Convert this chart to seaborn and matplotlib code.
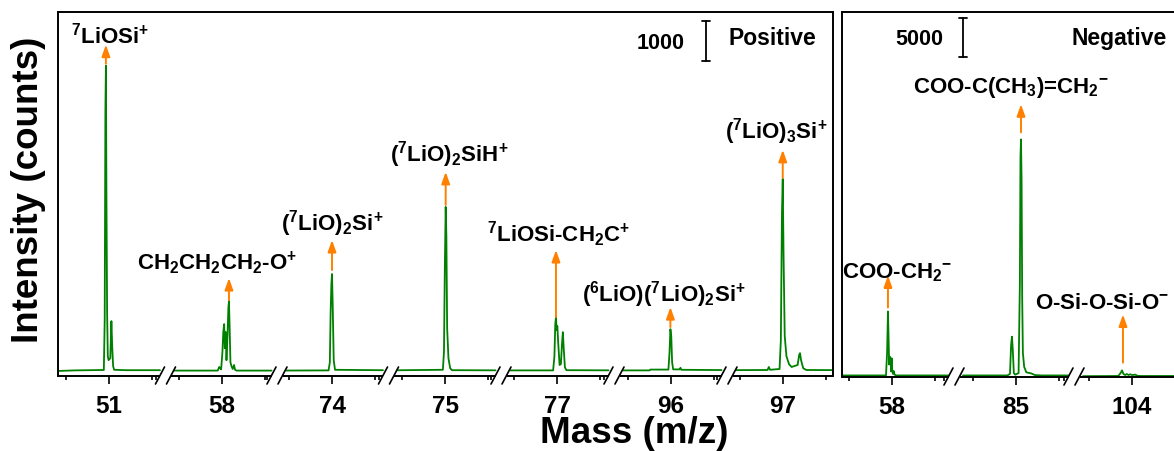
import numpy as np
import pandas as pd
import matplotlib
matplotlib.use("Agg")
import matplotlib.pyplot as plt
import seaborn as sns
from matplotlib.transforms import blended_transform_factory

# ---------------- data ----------------
pos_centers = [51, 58, 74, 75, 77, 96, 97]
neg_centers = [58, 85, 104]

pos51_mz = [50.40, 50.60, 50.94, 50.950, 50.958, 50.964, 50.970, 50.978, 50.986, 50.995, 51.015, 51.028, 51.038, 51.048, 51.06, 51.2, 51.8]
pos51_ct = [30, 45, 55, 1300, 6500, 7650, 4500, 1500, 400, 300, 350, 1275, 600, 150, 60, 50, 50]

pos58_mz = [57.3, 57.95, 57.968, 57.976, 57.99, 58.005, 58.015, 58.025, 58.033, 58.043, 58.052, 58.064, 58.074, 58.081, 58.089, 58.098, 58.11, 58.125, 58.14, 58.152, 58.17, 58.8]
pos58_ct = [40, 40, 130, 110, 70, 500, 1000, 1200, 600, 1000, 300, 900, 1600, 1775, 1100, 250, 150, 80, 180, 60, 40, 40]

pos74_mz = [73.3, 73.96, 73.975, 73.984, 73.993, 74.0, 74.008, 74.02, 74.035, 74.8]
pos74_ct = [40, 45, 250, 1500, 2200, 2450, 1700, 300, 60, 45]

pos75_mz = [74.3, 74.975, 74.988, 74.998, 75.008, 75.016, 75.025, 75.04, 75.06, 75.08, 75.8]
pos75_ct = [45, 60, 500, 2600, 4125, 3400, 1100, 350, 100, 50, 45]

pos77_mz = [76.3, 76.955, 76.97, 76.98, 76.988, 76.996, 77.004, 77.015, 77.03, 77.045, 77.058, 77.068, 77.078, 77.092, 77.11, 77.8]
pos77_ct = [45, 45, 400, 1200, 1375, 1050, 1150, 700, 180, 200, 700, 1000, 600, 120, 50, 45]

pos96_mz = [95.3, 95.75, 95.76, 95.97, 95.983, 95.993, 96.003, 96.013, 96.025, 96.1, 96.11, 96.12, 96.8]
pos96_ct = [45, 45, 65, 65, 500, 1075, 900, 250, 70, 70, 110, 60, 50]

pos97_mz = [96.3, 96.82, 96.835, 96.85, 96.96, 96.975, 96.988, 96.997, 97.006, 97.02, 97.04, 97.07, 97.1, 97.17, 97.188, 97.198, 97.21, 97.235, 97.27, 97.8]
pos97_ct = [50, 55, 130, 60, 80, 800, 4000, 4825, 3000, 900, 400, 200, 130, 180, 430, 475, 300, 100, 55, 50]

neg58_mz = [57.3, 57.93, 57.943, 57.953, 57.96, 57.967, 57.975, 57.983, 57.99, 57.996, 58.003, 58.012, 58.02, 58.03, 58.05, 58.9]
neg58_ct = [100, 100, 3000, 8270, 5000, 1500, 2500, 2000, 600, 2300, 800, 300, 650, 200, 100, 100]

neg85_mz = [84.2, 84.9, 84.93, 84.943, 84.953, 84.962, 84.975, 84.99, 85.03, 85.045, 85.052, 85.058, 85.065, 85.072, 85.08, 85.095, 85.12, 85.18, 85.22, 85.3, 85.9]
neg85_ct = [100, 100, 300, 4000, 5060, 3500, 400, 200, 400, 12000, 28000, 30300, 25000, 10000, 3000, 1200, 500, 350, 150, 100, 100]

neg104_mz = [103.3, 103.84, 103.87, 103.884, 103.9, 103.92, 103.94, 103.96, 103.98, 104.0, 104.04, 104.06, 104.1, 104.7]
neg104_ct = [0, 30, 450, 750, 300, 150, 280, 150, 250, 150, 200, 60, 30, 30]

pos_arrow_mz = [50.964, 58.081, 74.0, 75.008, 76.988, 95.993, 96.997]
pos_arrow_from = [7700, 1800, 2550, 4175, 1375, 1125, 4850]
pos_arrow_to = [8175, 2350, 3300, 5000, 3050, 1625, 5550]

neg_arrow_mz = [57.953, 85.058, 103.895]
neg_arrow_from = [8800, 31200, 1730]
neg_arrow_to = [12900, 34800, 7900]

pos_labels = [r'$^{7}$LiOSi$^{+}$',
              r'CH$_{2}$CH$_{2}$CH$_{2}$-O$^{+}$',
              r'($^{7}$LiO)$_{2}$Si$^{+}$',
              r'($^{7}$LiO)$_{2}$SiH$^{+}$',
              r'$^{7}$LiOSi-CH$_{2}$C$^{+}$',
              r'($^{6}$LiO)($^{7}$LiO)$_{2}$Si$^{+}$',
              r'($^{7}$LiO)$_{3}$Si$^{+}$']
pos_label_mz = [51.01, 57.948, 74.006, 75.05, 77.02, 95.92, 96.92]
pos_label_ct = [8225, 2600, 3550, 5275, 3275, 1800, 5850]

neg_labels = [r'COO-CH$_{2}{}^{-}$',
              r'COO-C(CH$_{3}$)=CH$_{2}{}^{-}$',
              r'O-Si-O-Si-O$^{-}$']
neg_label_mz = [58.06, 84.94, 102.87]
neg_label_ct = [12600, 36350, 8780]

scale_pos = 1000
scale_neg = 5000
panel_titles = ["Positive", "Negative"]
xlabel = "Mass (m/z)"
ylabel = "Intensity (counts)"

# ---------------- style ----------------
sns.set_theme(style="ticks")
plt.rcParams['font.family'] = ['Liberation Sans', 'DejaVu Sans']
plt.rcParams['font.weight'] = 'bold'
plt.rcParams['text.color'] = 'black'
plt.rcParams['axes.labelcolor'] = 'black'
plt.rcParams['xtick.color'] = 'black'
plt.rcParams['ytick.color'] = 'black'
plt.rcParams['axes.edgecolor'] = 'black'
plt.rcParams['mathtext.fontset'] = 'custom'
plt.rcParams['mathtext.rm'] = 'Liberation Sans:bold'
plt.rcParams['mathtext.it'] = 'Liberation Sans:italic:bold'
plt.rcParams['mathtext.bf'] = 'Liberation Sans:bold'
plt.rcParams['mathtext.default'] = 'rm'

GREEN = '#008000'
ORANGE = '#FF8000'
PXU = 86.0  # pixels per mass unit

W, H = 1174, 452
fig = plt.figure(figsize=(W / 100, H / 100), dpi=100)

ax_pos = fig.add_axes([58 / W, 75 / H, 775 / W, 364 / H])
ax_neg = fig.add_axes([842 / W, 74 / H, 341 / W, 365 / H])

pos_positions = [0, 113 / PXU, 223 / PXU, 336 / PXU, 448 / PXU, 562 / PXU, 674 / PXU]
neg_positions = [0, 124 / PXU, 240 / PXU]


def draw_panel(ax, centers, positions, spectra, xlim, ylim,
               arr_mz, arr_from, arr_to, labels, lab_mz, lab_ct, lab_ha,
               scale_val, scale_x, scale_y0, scale_lab_x, scale_lab_y):
    ax.set_xlim(xlim)
    ax.set_ylim(ylim)
    n = len(centers)
    breaks = [(positions[i] + positions[i + 1]) / 2 for i in range(n - 1)]
    g = 5.5 / PXU
    trans = blended_transform_factory(ax.transData, ax.transAxes)

    def seg_of(m):
        return int(np.argmin([abs(m - c) for c in centers]))

    def comp(m):
        k = seg_of(m)
        return positions[k] + (m - centers[k])

    for k, (mz, ct) in enumerate(spectra):
        x = positions[k] + (np.asarray(mz, float) - centers[k])
        y = np.asarray(ct, float)
        lo = xlim[0] if k == 0 else breaks[k - 1] + 9 / PXU
        hi = xlim[1] if k == n - 1 else breaks[k] - g
        xi = np.concatenate([[lo], x[(x > lo) & (x < hi)], [hi]])
        yi = np.interp(xi, x, y)
        df = pd.DataFrame({'x': xi, 'y': yi})
        sns.lineplot(data=df, x='x', y='y', ax=ax, color=GREEN, lw=1.3,
                     estimator=None, sort=False, legend=False)
        # axis line pieces
        alo = xlim[0] if k == 0 else breaks[k - 1] + g
        ahi = xlim[1] if k == n - 1 else breaks[k] - g
        ax.plot([alo, ahi], [0, 0], transform=trans, color='black', lw=1.4,
                clip_on=False, solid_capstyle='butt')

    # break marks
    for b in breaks:
        for s in (-g, g):
            ax.plot([b + s - 4.5 / PXU, b + s + 4.5 / PXU],
                    [-8 / 364, 9 / 364], transform=trans, color='black',
                    lw=1.2, clip_on=False)

    # ticks
    major = positions
    minor = []
    for k in range(n):
        minor += [positions[k] - 0.5, positions[k] + 0.5]
        if k < n - 1:
            minor.append(breaks[k] - 10 / PXU)
    ax.set_xticks(major)
    ax.set_xticklabels([str(c) for c in centers])
    ax.set_xticks(minor, minor=True)
    ax.tick_params(axis='x', which='major', direction='out', length=6,
                   width=1.2, pad=7, labelsize=17.5, colors='black')
    ax.tick_params(axis='x', which='minor', direction='out', length=3.2,
                   width=1.2, colors='black')
    ax.set_yticks([])
    for lab in ax.get_xticklabels():
        lab.set_fontweight('bold')
    ax.spines['bottom'].set_visible(False)
    for sp in ('left', 'top', 'right'):
        ax.spines[sp].set_linewidth(1.4)
        ax.spines[sp].set_color('black')
    ax.set_xlabel('')
    ax.set_ylabel('')

    # arrows
    for m, y0, y1 in zip(arr_mz, arr_from, arr_to):
        xm = comp(m)
        ax.annotate('', xy=(xm, y1), xytext=(xm, y0),
                    arrowprops=dict(arrowstyle='-|>,head_length=0.7,head_width=0.25',
                                    color=ORANGE, lw=1.4, mutation_scale=10,
                                    shrinkA=0, shrinkB=0))
    # labels
    for t, m, c, ha in zip(labels, lab_mz, lab_ct, lab_ha):
        ax.text(comp(m), c, t, ha=ha, va='baseline', fontsize=16,
                fontweight='bold', color='black')

    # scale bar
    cap = 4 / PXU
    ax.plot([scale_x, scale_x], [scale_y0, scale_y0 + scale_val], color='black', lw=1.3)
    for yy in (scale_y0, scale_y0 + scale_val):
        ax.plot([scale_x - cap, scale_x + cap], [yy, yy], color='black', lw=1.3)
    ax.text(scale_lab_x, scale_lab_y, str(scale_val), ha='right', va='baseline',
            fontsize=15.5, fontweight='bold', color='black')


pos_spectra = [(pos51_mz, pos51_ct), (pos58_mz, pos58_ct), (pos74_mz, pos74_ct),
               (pos75_mz, pos75_ct), (pos77_mz, pos77_ct), (pos96_mz, pos96_ct),
               (pos97_mz, pos97_ct)]
neg_spectra = [(neg58_mz, neg58_ct), (neg85_mz, neg85_ct), (neg104_mz, neg104_ct)]

draw_panel(ax_pos, pos_centers, pos_positions, pos_spectra,
           (-51 / PXU, 724 / PXU), (-95, 8990),
           pos_arrow_mz, pos_arrow_from, pos_arrow_to,
           pos_labels, pos_label_mz, pos_label_ct, ['center'] * 7,
           scale_pos, 597 / PXU, 7775, 576 / PXU, 8100)

draw_panel(ax_neg, neg_centers, neg_positions, neg_spectra,
           (-50 / PXU, 291 / PXU), (-100, 46600),
           neg_arrow_mz, neg_arrow_from, neg_arrow_to,
           neg_labels, neg_label_mz, neg_label_ct, ['center', 'center', 'left'],
           scale_neg, 71 / PXU, 40833, 51 / PXU, 42500)

ax_pos.text(0.979, 0.912, panel_titles[0], transform=ax_pos.transAxes, ha='right',
            va='baseline', fontsize=16.5, fontweight='bold', color='black')
ax_neg.text(0.674, 0.912, panel_titles[1], transform=ax_neg.transAxes, ha='left',
            va='baseline', fontsize=16.5, fontweight='bold', color='black')

fig.text(634 / W, 9 / H, xlabel, ha='center', va='baseline', fontsize=26.5,
         fontweight='bold', color='black')
fig.text(29 / W, 1 - 190 / H, ylabel, ha='center', va='center', rotation=90,
         fontsize=26.5, fontweight='bold', color='black')

fig.savefig('out.png', dpi=100)
